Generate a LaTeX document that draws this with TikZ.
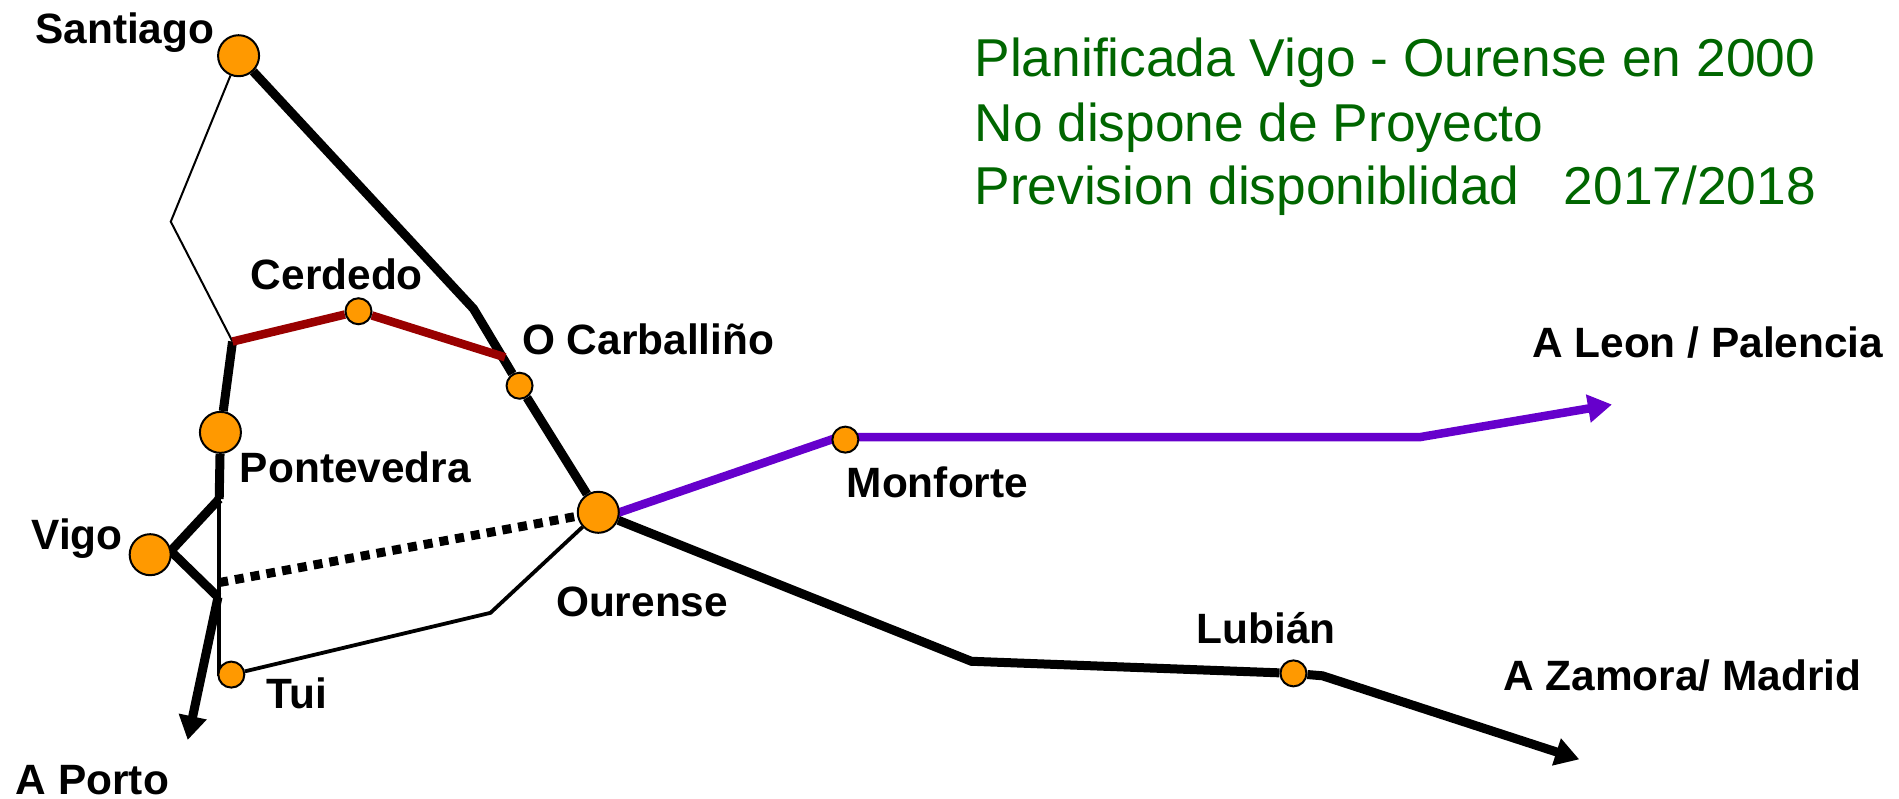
\documentclass[tikz,border=0pt]{standalone}
\usepackage{fontspec}
\setmainfont{Liberation Sans}
\usetikzlibrary{arrows.meta,backgrounds}
\definecolor{stationfill}{HTML}{FF9900}
\definecolor{newline}{HTML}{990000}
\definecolor{purpleline}{HTML}{6600CC}
\definecolor{plantext}{HTML}{006600}
\tikzset{
  x=1.2111pt,y=-1.2111pt,
  bigstn/.style={circle,draw=black,fill=stationfill,line width=2pt,minimum size=41pt,inner sep=0pt},
  smallstn/.style={circle,draw=black,fill=stationfill,line width=2pt,minimum size=26pt,inner sep=0pt},
  lbl/.style={anchor=base west,inner sep=0pt,font=\fontsize{42.4pt}{42.4pt}\selectfont\bfseries},
  plan/.style={anchor=base west,inner sep=0pt,text=plantext,font=\fontsize{53.3pt}{53.3pt}\selectfont},
  hair/.style={line width=2pt,line join=miter},
  midline/.style={line width=3.8pt,line join=miter},
  trunk/.style={line width=9pt,line join=miter},
  newrail/.style={line width=8.5pt,color=newline},
  purplerail/.style={line width=8.5pt,color=purpleline,line join=miter},
  dots/.style={line width=9pt,dash pattern=on 9pt off 7pt},
  headblack/.style={-{Triangle[length=24pt,width=27pt]}},
}
\begin{document}
\begin{tikzpicture}
\useasboundingbox (0,0) rectangle (1568,659);
\node[bigstn] (santiago) at (197,46) {};
\node[bigstn] (pontevedra) at (182,357) {};
\node[bigstn] (vigo) at (124,458) {};
\node[bigstn] (ourense) at (494,423) {};
\node[smallstn] (cerdedo) at (296,257) {};
\node[smallstn] (carballino) at (429,318.5) {};
\node[smallstn] (monforte) at (698,363) {};
\node[smallstn] (lubian) at (1068,556) {};
\node[smallstn] (tui) at (191,557) {};

\coordinate (w1) at (141,183);
\coordinate (j1) at (192,282);
\coordinate (j2) at (391,255);
\coordinate (j3) at (417,295);
\coordinate (j4) at (181,412);
\coordinate (j5) at (141,455);
\coordinate (j6) at (180,493);
\coordinate (j7) at (181,481);
\coordinate (j8) at (181,557);
\coordinate (j9) at (405,506);
\coordinate (o1) at (494,429);
\coordinate (m0) at (698,359);
\coordinate (m1) at (698,361);
\coordinate (j10) at (1172,361);
\coordinate (j11) at (802,546);
\coordinate (j12) at (1092,558);
\coordinate (porto) at (155,611);
\coordinate (leon) at (1331,334);
\coordinate (zamora) at (1304,627);

\begin{scope}[on background layer]
\draw[hair] (santiago) -- (w1) -- (j1);
\draw[trunk] (santiago) -- (j2) -- (carballino);
\draw[trunk] (carballino) -- (ourense);
\draw[trunk] (j1) -- (pontevedra);
\draw[trunk] (pontevedra) -- (j4);
\draw[trunk] (j4) -- (j5) -- (j6);
\draw[midline] (j4) -- (j8) -- (tui);
\draw[midline] (tui) -- (j9) -- (ourense);
\draw[dots] (j7) -- (ourense);
\draw[trunk,headblack] (j6) -- (porto);
\draw[newrail] (j1) -- (cerdedo);
\draw[newrail] (cerdedo) -- (j3);
\draw[purplerail] (o1) -- (m0);
\draw[purplerail,-{Triangle[length=24pt,width=27pt]}] (m1) -- (j10) -- (leon);
\draw[trunk] (ourense) -- (j11) -- (lubian);
\draw[trunk,headblack] (lubian) -- (j12) -- (zamora);
\end{scope}

\node[lbl] (t1) at (29,36) {Santiago};
\node[lbl] (t2) at (207,239) {Cerdedo};
\node[lbl] (t3) at (431,293) {O Carballiño};
\node[lbl] (t4) at (198,398) {Pontevedra};
\node[lbl] (t5) at (699,411) {Monforte};
\node[lbl] (t6) at (26,453.5) {Vigo};
\node[lbl] (t7) at (459,509) {Ourense};
\node[lbl] (t8) at (988,531) {Lubián};
\node[lbl] (t9) at (220,585) {Tui};
\node[lbl] (t10) at (13,656) {A Porto};
\node[lbl] (t11) at (1265,295) {A Leon / Palencia};
\node[lbl] (t12) at (1241,570) {A Zamora/ Madrid};
\node[plan] (p1) at (804.5,63) {Planificada Vigo - Ourense en 2000};
\node[plan] (p2) at (804.5,116.5) {No dispone de Proyecto};
\node[plan] (p3) at (804.5,169) {Prevision disponiblidad\ \ \ 2017/2018};
\end{tikzpicture}
\end{document}
